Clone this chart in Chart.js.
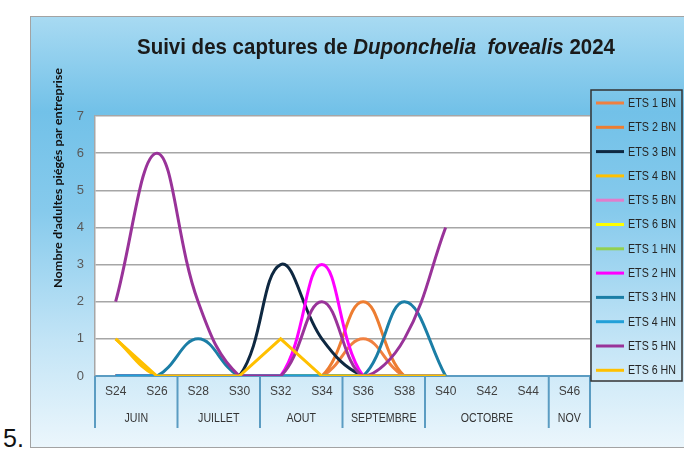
<!DOCTYPE html>
<html>
<head>
<meta charset="utf-8">
<script src="https://cdn.jsdelivr.net/npm/chart.js@4.4.1/dist/chart.umd.min.js"></script>
<style>
  html, body { margin:0; padding:0; background:#fff; width:684px; height:449px; overflow:hidden; }
  #box {
    position:absolute; left:30px; top:16px; width:660px; height:430px;
    border:1px solid #a3a3a3;
    background:linear-gradient(to bottom, #a8daf2 0%, #72c1e8 22%, #86caec 45%, #c2e4f6 75%, #ebf6fc 100%);
  }
  #c { position:absolute; left:0; top:0; }
  #num { position:absolute; left:3px; top:424px; font:25px 'Liberation Sans', Arial, sans-serif; color:#111; }
</style>
</head>
<body>
<div id="box"><canvas id="c" width="660" height="430"></canvas></div>
<div id="num">5.</div>
<script>
// semaines relevées + mois
const weeks      = ['S24','S26','S28','S30','S32','S34','S36','S38','S40','S42','S44','S46'];
const months     = ['JUIN','JUILLET','AOUT','SEPTEMBRE','OCTOBRE','NOV'];
const monthSpans = [2, 2, 2, 2, 3, 1];
const yTicks     = [0,1,2,3,4,5,6,7];

// captures par entreprise (null = pas encore de relevé)
const ets1BN = [0,0,0,0,0,0,1,0,0,null,null,null];
const ets2BN = [0,0,0,0,0,0,2,0,0,null,null,null];
const ets3BN = [0,0,0,0,3,1,0,0,0,null,null,null];
const ets4BN = [1,0,0,0,0,0,0,0,0,null,null,null];
const ets5BN = [0,0,0,0,0,0,0,0,0,null,null,null];
const ets6BN = [0,0,0,0,0,0,0,0,0,null,null,null];
const ets1HN = [0,0,0,0,0,0,0,0,0,null,null,null];
const ets2HN = [0,0,0,0,0,3,0,0,0,null,null,null];
const ets3HN = [0,0,1,0,0,0,0,2,0,null,null,null];
const ets4HN = [0,0,0,0,0,0,0,0,0,null,null,null];
const ets5HN = [2,6,2,0,0,2,0,1,4,null,null,null];
const ets6HN = [1,0,0,0,1,0,0,0,0,null,null,null];

const seriesNames  = ['ETS 1 BN','ETS 2 BN','ETS 3 BN','ETS 4 BN','ETS 5 BN','ETS 6 BN','ETS 1 HN','ETS 2 HN','ETS 3 HN','ETS 4 HN','ETS 5 HN','ETS 6 HN'];
const seriesData   = [ets1BN, ets2BN, ets3BN, ets4BN, ets5BN, ets6BN, ets1HN, ets2HN, ets3HN, ets4HN, ets5HN, ets6HN];
const seriesColors = ['#f08040','#ed7d31','#0e2841','#ffc000','#e27ccb','#ffff00','#92d050','#ff00ff','#1b7ea6','#22a0d8','#993399','#ffc000'];
const seriesSmooth = [true,true,true,true,true,true,true,true,true,true,true,false];

const SANS = "'Liberation Sans', Arial, sans-serif";

const datasets = seriesNames.map((name, i) => ({
  label: name,
  data: seriesData[i],
  borderColor: seriesColors[i],
  backgroundColor: seriesColors[i],
  borderWidth: 3,
  pointRadius: 0,
  fill: false,
  tension: seriesSmooth[i] ? 0.4 : 0,
  order: seriesNames.length - 1 - i,   // comme Excel : la dernière série dessus
}));

// texte "étroit" : on comprime horizontalement
function narrowText(ctx, txt, x, y, sx) {
  ctx.save();
  ctx.translate(x, y);
  ctx.scale(sx, 1);
  ctx.fillText(txt, 0, 0);
  ctx.restore();
}

const decorPlugin = {
  id: 'decor',
  beforeDraw(chart) {
    const {ctx, chartArea:a} = chart;
    ctx.save();
    ctx.fillStyle = '#fff';
    ctx.fillRect(a.left, a.top, a.right - a.left, a.bottom - a.top);
    ctx.restore();
  },
  afterDraw(chart) {
    const {ctx, chartArea:a} = chart;
    const xs = chart.scales.x;
    ctx.save();

    // titre
    const parts = [
      ['bold 22px ' + SANS, 'Suivi des captures de '],
      ['italic bold 22px ' + SANS, 'Duponchelia  fovealis'],
      ['bold 22px ' + SANS, ' 2024'],
    ];
    let tw = 0;
    parts.forEach(p => { ctx.font = p[0]; tw += ctx.measureText(p[1]).width; });
    const sx = 478 / tw;
    let tx = 345 - 239;
    ctx.fillStyle = '#1a1a1a';
    ctx.textBaseline = 'alphabetic';
    ctx.textAlign = 'left';
    parts.forEach(p => {
      ctx.font = p[0];
      narrowText(ctx, p[1], tx, 37, sx);
      tx += ctx.measureText(p[1]).width * sx;
    });

    // titre axe Y
    ctx.save();
    ctx.translate(27, 161);
    ctx.rotate(-Math.PI / 2);
    ctx.font = "bold 11px Lato, 'Open Sans', sans-serif";
    const yl = "Nombre d'adultes piégés par entreprise";
    const ysx = 220 / ctx.measureText(yl).width;
    ctx.textAlign = 'center';
    ctx.textBaseline = 'middle';
    ctx.fillStyle = '#111';
    ctx.scale(ysx, 1);
    ctx.fillText(yl, 0, 0);
    ctx.restore();

    // ligne des mois + séparateurs
    const half = (xs.getPixelForValue(1) - xs.getPixelForValue(0)) / 2;
    ctx.strokeStyle = '#5b9cc2';
    ctx.lineWidth = 2;
    ctx.font = '12.5px ' + SANS;
    ctx.fillStyle = '#333';
    ctx.textAlign = 'center';
    ctx.textBaseline = 'middle';
    let idx = 0;
    const sep = x => { ctx.beginPath(); ctx.moveTo(x, a.bottom); ctx.lineTo(x, a.bottom + 52); ctx.stroke(); };
    sep(xs.getPixelForValue(0) - half);
    months.forEach((m, k) => {
      const x0 = xs.getPixelForValue(idx) - half;
      const x1 = xs.getPixelForValue(idx + monthSpans[k] - 1) + half;
      narrowText(ctx, m, (x0 + x1) / 2, a.bottom + 43, 0.85);
      sep(x1);
      idx += monthSpans[k];
    });

    // légende encadrée
    const lx = 560, ly = 73, lw = 91, lh = 291;
    ctx.strokeStyle = '#333';
    ctx.lineWidth = 1.5;
    ctx.strokeRect(lx, ly, lw, lh);
    ctx.textAlign = 'left';
    ctx.font = '12.5px ' + SANS;
    seriesNames.forEach((name, i) => {
      const y = ly + 13 + i * 24.3;
      ctx.strokeStyle = seriesColors[i];
      ctx.lineWidth = 3;
      ctx.beginPath(); ctx.moveTo(lx + 5, y); ctx.lineTo(lx + 33, y); ctx.stroke();
      ctx.fillStyle = '#262626';
      narrowText(ctx, name, lx + 37, y + 0.5, 48 / ctx.measureText(name).width);
    });
    ctx.restore();
  }
};

new Chart(document.getElementById('c'), {
  type: 'line',
  data: { labels: weeks, datasets },
  plugins: [decorPlugin],
  options: {
    responsive: false,
    animation: false,
    layout: { padding: { left: 0, right: 101, top: 99, bottom: 0 } },
    plugins: { legend: { display: false }, tooltip: { enabled: false }, title: { display: false } },
    scales: {
      x: {
        offset: true,
        grid: { display: false, drawTicks: false },
        border: { display: true, color: '#5b9cc2', width: 2 },
        ticks: { color: '#404040', font: { family: SANS, size: 12 }, padding: 8, maxRotation: 0, autoSkip: false },
        afterFit: s => { s.height = 71; },
      },
      y: {
        min: 0, max: 7,
        afterBuildTicks: s => { s.ticks = yTicks.map(v => ({ value: v })); },
        grid: { color: '#a6a6a6', lineWidth: 1.5, drawTicks: false },
        border: { display: true, color: '#a6a6a6', width: 1.5 },
        ticks: { color: '#595959', font: { family: SANS, size: 13 }, padding: 11 },
        afterFit: s => { s.width = 64; },
      },
    },
  },
});
</script>
</body>
</html>
